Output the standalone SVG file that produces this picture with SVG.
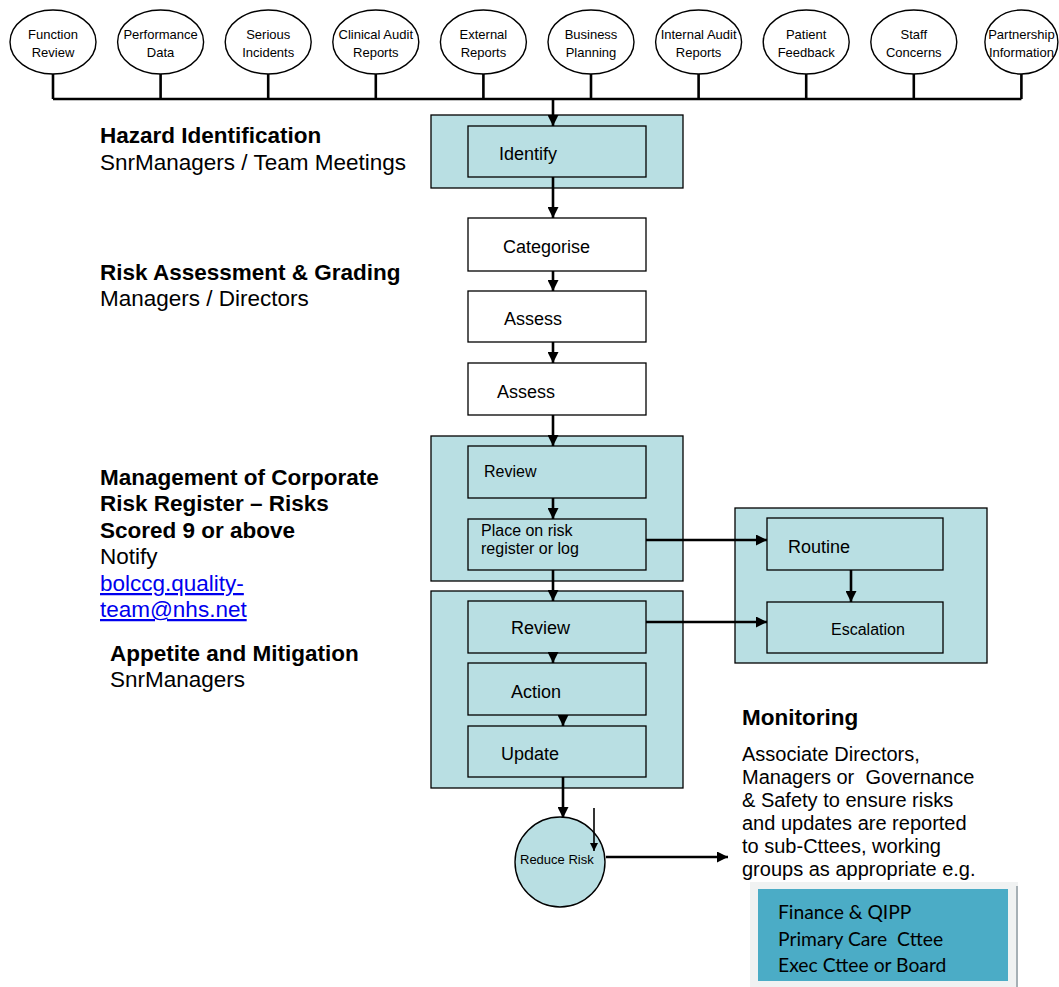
<svg xmlns="http://www.w3.org/2000/svg" width="1059" height="987" viewBox="0 0 1059 987">
<style>
text{font-family:"Liberation Sans",Arial,sans-serif;fill:#000}
.src ellipse{fill:#fff;stroke:#000;stroke-width:1.4}
.src text{font-size:13px;text-anchor:middle}
.box{fill:#fff;stroke:#000;stroke-width:1.3}
.teal{fill:#B9DFE3;stroke:#000;stroke-width:1.3}
.lbl{font-size:18px}
.sm{font-size:16px}
.hd{font-size:22.5px;font-weight:bold}
.bd{font-size:22.5px}
.mb{font-size:20px;white-space:pre}
.cal{font-family:Lato,"Open Sans",sans-serif;font-size:19.3px;white-space:pre}
.conn line,.conn path{stroke:#000;stroke-width:2.6;fill:none}
.conn .thin{stroke-width:1.6}
.link{fill:#0000EE;text-decoration:underline}
</style>
<defs>
<marker id="ah" viewBox="0 0 10 10" refX="10" refY="5" markerWidth="12" markerHeight="11" markerUnits="userSpaceOnUse" orient="auto">
<path d="M0,0 L10,5 L0,10 z" fill="#000"/>
</marker>
<marker id="ahs" viewBox="0 0 10 10" refX="10" refY="5" markerWidth="10" markerHeight="8" markerUnits="userSpaceOnUse" orient="auto">
<path d="M0,0 L10,5 L0,10 z" fill="#000"/>
</marker>
</defs>

<!-- source ellipses -->
<g id="src-function" class="src"><ellipse cx="53" cy="42" rx="43" ry="32"/><text x="53" y="39">Function</text><text x="53" y="57">Review</text></g>
<g id="src-performance" class="src"><ellipse cx="160.6" cy="42" rx="43" ry="32"/><text x="160.6" y="39">Performance</text><text x="160.6" y="57">Data</text></g>
<g id="src-serious" class="src"><ellipse cx="268.2" cy="42" rx="43" ry="32"/><text x="268.2" y="39">Serious</text><text x="268.2" y="57">Incidents</text></g>
<g id="src-clinical" class="src"><ellipse cx="375.8" cy="42" rx="43" ry="32"/><text x="375.8" y="39">Clinical Audit</text><text x="375.8" y="57">Reports</text></g>
<g id="src-external" class="src"><ellipse cx="483.4" cy="42" rx="43" ry="32"/><text x="483.4" y="39">External</text><text x="483.4" y="57">Reports</text></g>
<g id="src-business" class="src"><ellipse cx="591" cy="42" rx="43" ry="32"/><text x="591" y="39">Business</text><text x="591" y="57">Planning</text></g>
<g id="src-internal" class="src"><ellipse cx="698.6" cy="42" rx="43" ry="32"/><text x="698.6" y="39">Internal Audit</text><text x="698.6" y="57">Reports</text></g>
<g id="src-patient" class="src"><ellipse cx="806.2" cy="42" rx="43" ry="32"/><text x="806.2" y="39">Patient</text><text x="806.2" y="57">Feedback</text></g>
<g id="src-staff" class="src"><ellipse cx="913.8" cy="42" rx="43" ry="32"/><text x="913.8" y="39">Staff</text><text x="913.8" y="57">Concerns</text></g>
<g id="src-partnership" class="src"><ellipse cx="1021.4" cy="42" rx="36.5" ry="32"/><text x="1021.4" y="39">Partnership</text><text x="1021.4" y="57">Information</text></g>

<!-- containers -->
<g id="grp-identify"><rect class="teal" x="431" y="115" width="252" height="73"/></g>
<g id="grp-review"><rect class="teal" x="431" y="436" width="252" height="145"/></g>
<g id="grp-action"><rect class="teal" x="431" y="591" width="252" height="197"/></g>
<g id="grp-routing"><rect class="teal" x="735" y="508" width="252" height="155"/></g>

<!-- nodes -->
<g id="n-identify"><rect class="teal" x="468" y="126" width="178" height="51"/><text class="lbl" x="499" y="160">Identify</text></g>
<g id="n-categorise"><rect class="box" x="468" y="218" width="178" height="53"/><text class="lbl" x="503" y="253">Categorise</text></g>
<g id="n-assess1"><rect class="box" x="468" y="291" width="178" height="51"/><text class="lbl" x="504" y="325">Assess</text></g>
<g id="n-assess2"><rect class="box" x="468" y="363" width="178" height="52"/><text class="lbl" x="497" y="398">Assess</text></g>
<g id="n-review1"><rect class="teal" x="468" y="446" width="178" height="52"/><text class="sm" x="484" y="477">Review</text></g>
<g id="n-place"><rect class="teal" x="468" y="519" width="178" height="51"/><text class="sm" x="481" y="536">Place on risk</text><text class="sm" x="481" y="554">register or log</text></g>
<g id="n-routine"><rect class="teal" x="767" y="518" width="176" height="52"/><text class="lbl" x="788" y="553">Routine</text></g>
<g id="n-escalation"><rect class="teal" x="767" y="602" width="176" height="51"/><text class="sm" x="831" y="635">Escalation</text></g>
<g id="n-review2"><rect class="teal" x="468" y="601" width="178" height="52"/><text class="lbl" x="511" y="634">Review</text></g>
<g id="n-action"><rect class="teal" x="468" y="663" width="178" height="52"/><text class="lbl" x="511" y="698">Action</text></g>
<g id="n-update"><rect class="teal" x="468" y="726" width="178" height="51"/><text class="lbl" x="501" y="760">Update</text></g>
<g id="n-reduce"><circle cx="560" cy="862" r="45" fill="#B9DFE3" stroke="#000" stroke-width="1.4"/><text x="520" y="864" font-size="13">Reduce Risk</text></g>

<!-- committees box -->
<g id="n-committees">
<rect x="750" y="882" width="268" height="105" fill="#F0F2F2"/>
<line x1="1017" y1="886" x2="1017" y2="987" stroke="#A6B0B5" stroke-width="2"/>
<rect x="758" y="889" width="250" height="92" fill="#4BACC6"/>
<text class="cal" x="778" y="919">Finance &amp; QIPP</text>
<text class="cal" x="778" y="946">Primary Care  Cttee</text>
<text class="cal" x="778" y="972">Exec Cttee or Board</text>
</g>

<!-- connectors -->
<g id="connectors" class="conn">
<path d="M53,74 V99 M160.6,74 V99 M268.2,74 V99 M375.8,74 V99 M483.4,74 V99 M591,74 V99 M698.6,74 V99 M806.2,74 V99 M913.8,74 V99 M1021.4,74 V99 M53,99 H1021.4" stroke-width="3"/>
<line x1="553" y1="99" x2="553" y2="126" marker-end="url(#ah)"/>
<line x1="553" y1="177" x2="553" y2="218" marker-end="url(#ah)"/>
<line x1="553" y1="271" x2="553" y2="291" marker-end="url(#ah)"/>
<line x1="553" y1="342" x2="553" y2="363" marker-end="url(#ah)"/>
<line x1="553" y1="415" x2="553" y2="446" marker-end="url(#ah)"/>
<line x1="553" y1="498" x2="553" y2="519" marker-end="url(#ah)"/>
<line x1="553" y1="570" x2="553" y2="601" marker-end="url(#ah)"/>
<line x1="553" y1="653" x2="553" y2="663" marker-end="url(#ah)"/>
<line x1="563" y1="715" x2="563" y2="726" marker-end="url(#ah)"/>
<line x1="563" y1="777" x2="563" y2="818" marker-end="url(#ah)"/>
<line x1="646" y1="540" x2="767" y2="540" marker-end="url(#ah)"/>
<line x1="646" y1="622" x2="767" y2="622" marker-end="url(#ah)"/>
<line x1="851" y1="570" x2="851" y2="602" marker-end="url(#ah)"/>
<line class="thin" x1="594" y1="808" x2="594" y2="851" marker-end="url(#ahs)"/>
<line x1="606" y1="857" x2="728" y2="857" marker-end="url(#ah)"/>
</g>

<!-- side labels -->
<g id="lbl-hazard"><text class="hd" x="100" y="143">Hazard Identification</text><text class="bd" x="100" y="170">SnrManagers / Team Meetings</text></g>
<g id="lbl-assessment"><text class="hd" x="100" y="280">Risk Assessment &amp; Grading</text><text class="bd" x="100" y="306">Managers / Directors</text></g>
<g id="lbl-management">
<text class="hd" x="100" y="485">Management of Corporate</text>
<text class="hd" x="100" y="511">Risk Register – Risks</text>
<text class="hd" x="100" y="538">Scored 9 or above</text>
<text class="bd" x="100" y="564">Notify</text>
<text class="bd link" x="100" y="591">bolccg.quality-</text>
<text class="bd link" x="100" y="617">team@nhs.net</text>
</g>
<g id="lbl-appetite"><text class="hd" x="110" y="661">Appetite and Mitigation</text><text class="bd" x="110" y="687">SnrManagers</text></g>
<g id="lbl-monitoring">
<text class="hd" x="742" y="725">Monitoring</text>
<text class="mb" x="742" y="761">Associate Directors,</text>
<text class="mb" x="742" y="784">Managers or  Governance</text>
<text class="mb" x="742" y="807">&amp; Safety to ensure risks</text>
<text class="mb" x="742" y="830">and updates are reported</text>
<text class="mb" x="742" y="853">to sub-Cttees, working</text>
<text class="mb" x="742" y="876">groups as appropriate e.g.</text>
</g>
</svg>
